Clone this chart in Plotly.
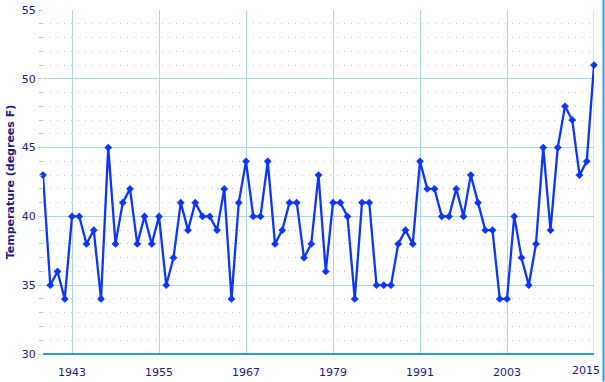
import plotly.graph_objects as go

years = list(range(1939, 2016))
temps = [43, 35, 36, 34, 40, 40, 38, 39, 34, 45,
         38, 41, 42, 38, 40, 38, 40, 35, 37, 41,
         39, 41, 40, 40, 39, 42, 34, 41, 44, 40,
         40, 44, 38, 39, 41, 41, 37, 38, 43, 36,
         41, 41, 40, 34, 41, 41, 35, 35, 35, 38,
         39, 38, 44, 42, 42, 40, 40, 42, 40, 43,
         41, 39, 39, 34, 34, 40, 37, 35, 38, 45,
         39, 45, 48, 47, 43, 44, 51]
x_ticks = [1943, 1955, 1967, 1979, 1991, 2003, 2015]
y_ticks = [30, 35, 40, 45, 50, 55]

fig = go.Figure()
fig.add_trace(go.Scatter(
    x=years, y=temps, mode="lines+markers",
    line=dict(color="#0a36ff", width=2.3),
    marker=dict(symbol="diamond", size=6, color="#0a36ff"),
    showlegend=False, cliponaxis=False,
))

font_color = "#1a1a80"
grid_color = "#a9d6ea"
fs = 11
# last label is drawn as a right-anchored annotation so it stays inside the page
x_text = [str(t) for t in x_ticks[:-1]] + [""]
fig.update_layout(
    width=605, height=382,
    margin=dict(l=43, r=11, t=10, b=28, autoexpand=False),
    paper_bgcolor="white", plot_bgcolor="white",
    font=dict(family="DejaVu Sans, Verdana, sans-serif", size=fs, color=font_color),
    xaxis=dict(
        range=[1939, 2015], tickvals=x_ticks, ticktext=x_text,
        showgrid=True, gridcolor=grid_color, gridwidth=1,
        zeroline=False, showline=False, ticks="outside", ticklen=8,
        tickcolor="rgba(255,255,255,0)",
        tickfont=dict(size=fs, color=font_color), automargin=False,
    ),
    yaxis=dict(
        range=[30, 55], tickvals=y_ticks,
        showgrid=True, gridcolor=grid_color, gridwidth=1,
        zeroline=False, showline=False,
        ticks="outside", ticklen=4, tickcolor=grid_color,
        tickfont=dict(size=fs, color=font_color), automargin=False,
        title=dict(text="<b>Temperature (degrees F)</b>", font=dict(size=fs, color=font_color), standoff=4),
        minor=dict(dtick=1, showgrid=True, gridcolor="#c4c4c4", griddash="1px,6px",
                   ticks="outside", ticklen=3, tickcolor="#bbbbbb"),
    ),
)
fig.add_annotation(x=x_ticks[-1], y=0, xref="x", yref="paper", text=str(x_ticks[-1]),
                   showarrow=False, xanchor="right", yanchor="top", xshift=8, yshift=-8,
                   font=dict(size=fs, color=font_color))
# right-edge vertical grid line, bottom axis line and right border
fig.add_shape(type="line", xref="x", yref="paper", x0=2015, x1=2015, y0=0, y1=1,
              line=dict(color=grid_color, width=1), layer="below")
fig.add_shape(type="line", xref="paper", yref="paper", x0=0, x1=1, y0=0, y1=0,
              line=dict(color="#2a9fc8", width=2))
fig.add_shape(type="line", xref="paper", yref="paper", x0=1.0173, x1=1.0173, y0=-0.08, y1=1.03,
              line=dict(color="#1aa3e8", width=2))

fig.write_html("out.html", config={"displayModeBar": False},
               post_script="document.body.style.margin='0px';document.body.style.padding='0px';")
